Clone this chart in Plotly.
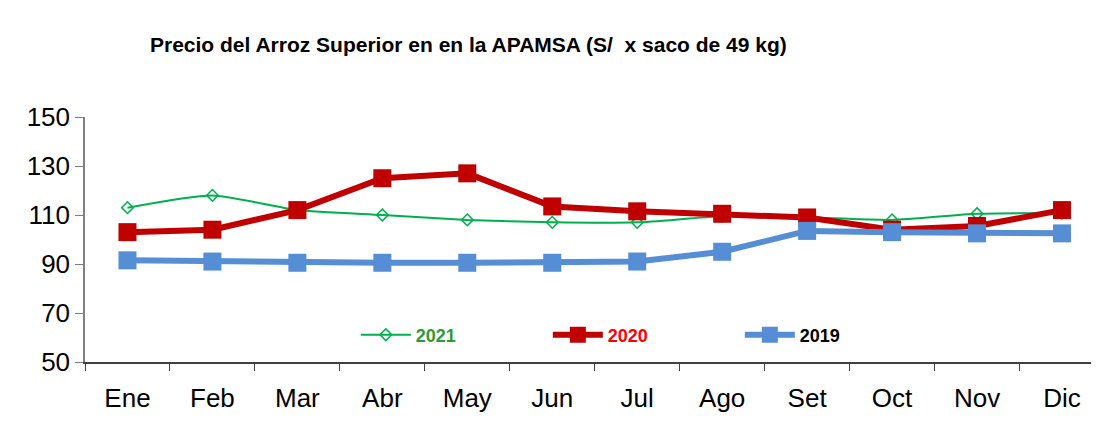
import plotly.graph_objects as go

months = ["Ene", "Feb", "Mar", "Abr", "May", "Jun", "Jul", "Ago", "Set", "Oct", "Nov", "Dic"]
y2021 = [113, 118, 112, 110, 108, 107, 107, 109.5, 109, 108, 110.5, 110.8]
y2020 = [103, 104, 112, 125, 127, 113.5, 111.5, 110.5, 109, 104, 105.5, 112]
y2019 = [91.5, 91, 90.5, 90.5, 90.5, 90.5, 91, 95, 103.5, 103, 102.5, 102.5]

fig = go.Figure()
fig.add_trace(go.Scatter(
    x=months, y=y2021, mode="lines+markers",
    name="<b><span style='color:#339933'>2021</span></b>",
    line=dict(color="#00B050", width=2, shape="spline", smoothing=0.6),
    marker=dict(symbol="diamond-open", size=9, color="#00B050", line=dict(width=1.5)),
))
fig.add_trace(go.Scatter(
    x=months, y=y2020, mode="lines+markers",
    name="<b><span style='color:#FF0000'>2020</span></b>",
    line=dict(color="#C00000", width=6),
    marker=dict(symbol="square", size=18, color="#C00000"),
))
fig.add_trace(go.Scatter(
    x=months, y=y2019, mode="lines+markers",
    name="<b><span style='color:#000000'>2019</span></b>",
    line=dict(color="#558ED5", width=6),
    marker=dict(symbol="square", size=18, color="#558ED5"),
))

fig.update_layout(
    width=1099, height=428,
    margin=dict(l=77, r=0, t=109, b=74),
    paper_bgcolor="white", plot_bgcolor="white",
    font=dict(family="Liberation Sans, Arial, sans-serif", color="black"),
    title=dict(
        text="<b>Precio del Arroz Superior en en la APAMSA (S/  x saco de 49 kg)</b>",
        font=dict(family="Liberation Sans, Arial, sans-serif", size=21, color="black"),
        x=142 / 1099, xanchor="left", xref="container", y=1 - 37 / 428, yanchor="middle", yref="container",
    ),
    showlegend=True,
    legend=dict(
        orientation="h", x=0.265, y=0.11, xanchor="left", yanchor="middle",
        bgcolor="rgba(0,0,0,0)", font=dict(size=18, family="Liberation Sans, Arial, sans-serif"),
        entrywidth=127, entrywidthmode="pixels", itemwidth=50,
    ),
    xaxis=dict(
        type="category", range=[-0.5, 11.53],
        showline=True, linecolor="#404040", linewidth=1.5,
        ticks="outside", tickson="boundaries", ticklen=7, tickcolor="#404040",
        tickfont=dict(size=26), showgrid=False, zeroline=False,
        ticklabelstandoff=12,
    ),
    yaxis=dict(
        range=[50, 150], tickvals=[50, 70, 90, 110, 130, 150],
        showline=True, linecolor="#808080", linewidth=1.5,
        ticks="outside", ticklen=8, tickcolor="#808080",
        tickfont=dict(size=26), showgrid=False, zeroline=False,
    ),
)

fig.write_html("out.html")
